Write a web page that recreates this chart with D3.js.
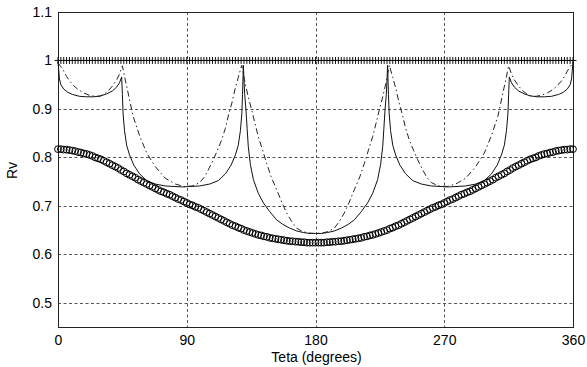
<!DOCTYPE html>
<html>
<head>
<meta charset="utf-8">
<script src="https://cdn.jsdelivr.net/npm/d3@7"></script>
<style>
  body { margin: 0; background: #fff; }
  text { font-family: "Liberation Sans", Arial, sans-serif; fill: #000; }
</style>
</head>
<body>
<div id="chart"></div>
<script>
// sample angles for the marker series (degrees)
const angles = d3.range(0, 361, 2);

const plusValues = [
  1,1,1,1,1,1,1,1,1,1, 1,1,1,1,1,1,1,1,1,1, 1,1,1,1,1,1,1,1,1,1,
  1,1,1,1,1,1,1,1,1,1, 1,1,1,1,1,1,1,1,1,1, 1,1,1,1,1,1,1,1,1,1,
  1,1,1,1,1,1,1,1,1,1, 1,1,1,1,1,1,1,1,1,1, 1,1,1,1,1,1,1,1,1,1,
  1,1,1,1,1,1,1,1,1,1, 1,1,1,1,1,1,1,1,1,1, 1,1,1,1,1,1,1,1,1,1,
  1,1,1,1,1,1,1,1,1,1, 1,1,1,1,1,1,1,1,1,1, 1,1,1,1,1,1,1,1,1,1,
  1,1,1,1,1,1,1,1,1,1, 1,1,1,1,1,1,1,1,1,1, 1,1,1,1,1,1,1,1,1,1,
  1
];

const circleValues = [
  0.817,0.817,0.816,0.816,0.815,0.814,0.813,0.811,0.810,0.808,
  0.807,0.805,0.803,0.800,0.798,0.796,0.793,0.790,0.787,0.784,
  0.781,0.778,0.774,0.771,0.767,0.764,0.761,0.758,0.754,0.751,
  0.748,0.745,0.742,0.739,0.736,0.733,0.730,0.728,0.725,0.723,
  0.720,0.717,0.714,0.712,0.709,0.706,0.703,0.701,0.698,0.696,
  0.693,0.690,0.687,0.684,0.681,0.678,0.675,0.672,0.669,0.666,
  0.663,0.660,0.658,0.655,0.653,0.650,0.648,0.646,0.644,0.642,
  0.640,0.639,0.637,0.636,0.634,0.633,0.632,0.631,0.630,0.629,
  0.628,0.627,0.627,0.626,0.626,0.625,0.625,0.624,0.624,0.624,
  0.624,
  0.624,0.624,0.624,0.625,0.625,0.626,0.626,0.627,0.627,0.628,
  0.629,0.630,0.631,0.632,0.633,0.634,0.636,0.637,0.639,0.640,
  0.642,0.644,0.646,0.648,0.650,0.653,0.655,0.658,0.660,0.663,
  0.666,0.669,0.672,0.675,0.678,0.681,0.684,0.687,0.690,0.693,
  0.696,0.698,0.701,0.703,0.706,0.709,0.712,0.714,0.717,0.720,
  0.723,0.725,0.728,0.730,0.733,0.736,0.739,0.742,0.745,0.748,
  0.751,0.754,0.758,0.761,0.764,0.767,0.771,0.774,0.778,0.781,
  0.784,0.787,0.790,0.793,0.796,0.798,0.800,0.803,0.805,0.807,
  0.808,0.810,0.811,0.813,0.814,0.815,0.816,0.816,0.817,0.817
];

// solid curve
const solidAngles = [
  0,1,2,4,7,10,15,20,25,30,34,38,41,43,44.5,
  45,45.5,46.5,48,50,53,57,62,68,75,87,99,106,112,117,121,124,126,127.5,128.5,129,129.6,
  130,130.5,131.4,132.2,133,134.5,136.6,140,143.6,148,152.9,157,162,167,171.5,176,180,
  184,188.5,193,198,203,207.1,212,216.4,220,223.4,225.5,227,227.8,228.6,229.5,230,230.4,
  231,231.5,232.5,234,236,239,243,248,254,261,273,285,292,298,303,307,310,312,313.5,314.5,315,
  315.5,317,319,322,326,330,335,340,345,350,353,356,358,359,360
];
const solidValues = [
  0.998,0.962,0.950,0.941,0.934,0.930,0.926,0.925,0.925,0.927,0.931,0.937,0.945,0.954,0.966,
  0.930,0.890,0.855,0.825,0.805,0.784,0.766,0.752,0.745,0.741,0.739,0.741,0.745,0.752,0.766,0.784,0.805,0.825,0.855,0.890,0.930,0.990,
  0.960,0.930,0.898,0.860,0.823,0.785,0.754,0.726,0.706,0.688,0.671,0.662,0.654,0.648,0.645,0.643,0.643,
  0.643,0.645,0.648,0.654,0.662,0.671,0.688,0.706,0.726,0.754,0.785,0.823,0.860,0.898,0.930,0.960,0.990,
  0.930,0.890,0.855,0.825,0.805,0.784,0.766,0.752,0.745,0.741,0.739,0.741,0.745,0.752,0.766,0.784,0.805,0.825,0.855,0.890,0.930,
  0.966,0.954,0.945,0.937,0.931,0.927,0.925,0.925,0.926,0.930,0.934,0.941,0.950,0.962,0.998
];

// dash-dot curve
const dashAngles = [
  0,2,4,6,8,11,14,18,22,26,29,32,35,38,41,43,45,
  47,49,52.5,57,62,68,75,82,88,94,99,102,105,108.6,111.5,114.4,117,119,121.5,123.7,126,128.4,
  130.8,133,135.4,137.7,140,143,145.8,149,152.9,156.5,159.9,163.5,166.8,171,175,180,
  185,189,193.2,196.5,200.1,203.5,207.1,211,214.2,217,220,222.3,224.6,227,229.2,231.6,
  234,236.3,238.5,241,243,245.6,248.5,251.4,255,258,261,266,272,278,285,292,298,303,307.5,311,313,315,
  317,319,322,325,328,331,334,338,342,346,349,352,354,356,358,360
];
const dashValues = [
  0.995,0.987,0.978,0.967,0.958,0.948,0.940,0.933,0.928,0.926,0.926,0.930,0.937,0.947,0.960,0.972,0.989,
  0.960,0.933,0.885,0.845,0.809,0.781,0.757,0.745,0.740,0.741,0.748,0.758,0.774,0.795,0.815,0.836,0.860,0.885,0.912,0.940,0.965,0.990,
  0.953,0.925,0.898,0.870,0.843,0.815,0.788,0.760,0.733,0.707,0.685,0.667,0.654,0.647,0.644,0.643,
  0.644,0.647,0.654,0.667,0.685,0.707,0.733,0.760,0.788,0.815,0.843,0.870,0.898,0.925,0.953,0.990,
  0.965,0.940,0.912,0.885,0.860,0.836,0.815,0.795,0.774,0.758,0.748,0.741,0.740,0.745,0.757,0.781,0.809,0.845,0.885,0.933,0.960,0.989,
  0.972,0.960,0.947,0.937,0.930,0.926,0.926,0.928,0.933,0.940,0.948,0.958,0.967,0.978,0.987,0.995
];

const xTicks = [0, 90, 180, 270, 360];
const yTicks = [0.5, 0.6, 0.7, 0.8, 0.9, 1, 1.1];

const width = 587, height = 367;
const mLeft = 58, mRight = 573, mTop = 12, mBottom = 327;

const x = d3.scaleLinear().domain([0, 360]).range([mLeft, mRight]);
const y = d3.scaleLinear().domain([0.45, 1.1]).range([mBottom, mTop]);

const svg = d3.select('#chart').append('svg')
  .attr('width', width)
  .attr('height', height);

// grid
const grid = svg.append('g')
  .attr('stroke', '#555')
  .attr('stroke-width', 1)
  .attr('stroke-dasharray', '3,2.5');
grid.selectAll('.gx')
  .data(xTicks.slice(1, -1))
  .enter().append('line')
  .attr('x1', d => Math.round(x(d)) + 0.5).attr('x2', d => Math.round(x(d)) + 0.5)
  .attr('y1', mTop).attr('y2', mBottom);
grid.selectAll('.gy')
  .data(yTicks.slice(0, -1))
  .enter().append('line')
  .attr('x1', mLeft).attr('x2', mRight)
  .attr('y1', d => Math.round(y(d)) + 0.5).attr('y2', d => Math.round(y(d)) + 0.5);

// frame
svg.append('rect')
  .attr('x', mLeft + 0.5).attr('y', mTop + 0.5)
  .attr('width', mRight - mLeft).attr('height', mBottom - mTop)
  .attr('fill', 'none')
  .attr('stroke', '#222')
  .attr('stroke-width', 1);

// axes (labels only, grid does the lines)
const xAxis = svg.append('g')
  .attr('transform', `translate(0,${mBottom})`)
  .call(d3.axisBottom(x).tickValues(xTicks).tickSize(0).tickPadding(8).tickFormat(d3.format('d')));
const yAxis = svg.append('g')
  .attr('transform', `translate(${mLeft},0)`)
  .call(d3.axisLeft(y).tickValues(yTicks).tickSize(0).tickPadding(6).tickFormat(d => String(d)));
[xAxis, yAxis].forEach(a => {
  a.select('.domain').remove();
  a.selectAll('text').style('font-size', '14px').style('font-family', '"Liberation Sans", Arial, sans-serif');
});

svg.append('text')
  .attr('x', (mLeft + mRight) / 2 + 1)
  .attr('y', 362)
  .attr('text-anchor', 'middle')
  .style('font-size', '14px')
  .text('Teta (degrees)');

svg.append('text')
  .attr('transform', `translate(17,${(mTop + mBottom) / 2 + 1}) rotate(-90)`)
  .attr('text-anchor', 'middle')
  .style('font-size', '14px')
  .text('Rv');

// curves
const line = d3.line()
  .x(d => x(d[0]))
  .y(d => y(d[1]));

svg.append('path')
  .datum(solidAngles.map((a, i) => [a, solidValues[i]]))
  .attr('d', line)
  .attr('fill', 'none')
  .attr('stroke', '#111')
  .attr('stroke-width', 1);

svg.append('path')
  .datum(dashAngles.map((a, i) => [a, dashValues[i]]))
  .attr('d', line)
  .attr('fill', 'none')
  .attr('stroke', '#222')
  .attr('stroke-width', 1)
  .attr('stroke-dasharray', '6,3,1.5,3');

// circle markers
svg.append('g').selectAll('circle')
  .data(angles.map((a, i) => [a, circleValues[i]]))
  .enter().append('circle')
  .attr('cx', d => x(d[0]))
  .attr('cy', d => y(d[1]))
  .attr('r', 3.4)
  .attr('fill', 'none')
  .attr('stroke', '#000')
  .attr('stroke-width', 1);

// plus markers
const plus = svg.append('g')
  .attr('stroke', '#111')
  .attr('stroke-width', 1);
plus.selectAll('path')
  .data(angles.map((a, i) => [a, plusValues[i]]))
  .enter().append('path')
  .attr('d', d => {
    const cx = x(d[0]), cy = y(d[1]);
    return `M${cx - 3.5},${cy}H${cx + 3.5}M${cx},${cy - 3.5}V${cy + 3.5}`;
  });
</script>
</body>
</html>
